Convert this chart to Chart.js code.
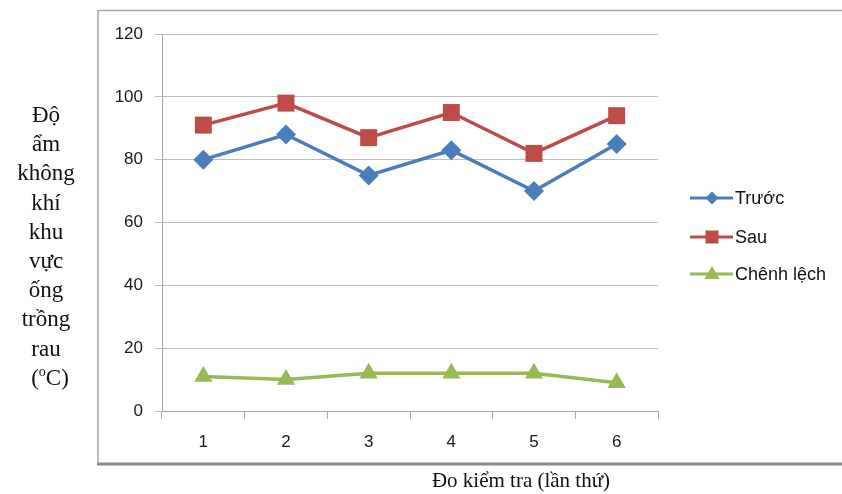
<!DOCTYPE html>
<html>
<head>
<meta charset="utf-8">
<script src="https://cdn.jsdelivr.net/npm/chart.js@4"></script>
<style>
  html, body { margin: 0; padding: 0; background: #fff; }
  #wrap { position: relative; width: 842px; height: 494px; }
  canvas { display: block; }
</style>
</head>
<body>
<div id="wrap"><canvas id="c" width="842" height="494"></canvas></div>
<script>
// Lần đo
const categories = ['1', '2', '3', '4', '5', '6'];
// Độ ẩm trước và sau, và chênh lệch giữa hai lần
const truoc = [80, 88, 75, 83, 70, 85];
const sau = [91, 98, 87, 95, 82, 94];
const chenhLech = [11, 10, 12, 12, 12, 9];
const seriesNames = ['Trước', 'Sau', 'Chênh lệch'];
const yTitleLines = ['Độ', 'ẩm', 'không', 'khí', 'khu', 'vực', 'ống', 'trồng', 'rau'];
const xTitle = 'Đo kiểm tra (lần thứ)';

const BLUE = '#4a7ebb', RED = '#be4b48', GREEN = '#98b954';
const SERIF = '"Liberation Serif", "Times New Roman", serif';
const SANS = '"Liberation Sans", Arial, sans-serif';

// Frame, axis titles and the line+marker legend
const decorations = {
  id: 'decorations',
  afterDraw(chart) {
    const ctx = chart.ctx;
    ctx.save();
    // outer frame
    ctx.strokeStyle = '#a6a6a6';
    ctx.lineWidth = 1.5;
    ctx.beginPath();
    ctx.moveTo(98, 464);
    ctx.lineTo(98, 10.5);
    ctx.lineTo(842, 10.5);
    ctx.stroke();
    ctx.strokeStyle = '#8a8a8a';
    ctx.lineWidth = 3;
    ctx.beginPath();
    ctx.moveTo(97, 464);
    ctx.lineTo(842, 464);
    ctx.stroke();

    // y title, stacked words
    ctx.fillStyle = '#111';
    const F = '23px ' + SERIF;
    ctx.font = F;
    ctx.textAlign = 'center';
    ctx.textBaseline = 'alphabetic';
    const cx = 46;
    let y = 122;
    const lh = 29.2;
    yTitleLines.forEach(t => { ctx.fillText(t, cx, y); y += lh; });
    // (oC) with raised small o
    const p1 = '(', p2 = 'C)';
    ctx.font = F;
    const w1 = ctx.measureText(p1).width;
    const w3 = ctx.measureText(p2).width;
    ctx.font = '14px ' + SERIF;
    const w2 = ctx.measureText('o').width;
    const x0 = cx + 4 - (w1 + w2 + w3) / 2;
    ctx.textAlign = 'left';
    ctx.font = F;
    ctx.fillText(p1, x0, y);
    ctx.font = '14px ' + SERIF;
    ctx.fillText('o', x0 + w1, y - 9);
    ctx.font = F;
    ctx.fillText(p2, x0 + w1 + w2, y);

    // x title
    ctx.textAlign = 'center';
    ctx.font = '21px ' + SERIF;
    ctx.fillText(xTitle, 521, 487);

    // legend
    const items = chart.data.datasets;
    const ys = [198, 237, 274];
    items.forEach((ds, i) => {
      const ly = ys[i];
      ctx.strokeStyle = ds.borderColor;
      ctx.lineWidth = 3;
      ctx.beginPath();
      ctx.moveTo(690, ly);
      ctx.lineTo(733, ly);
      ctx.stroke();
      ctx.fillStyle = ds.borderColor;
      const mx = 712;
      ctx.beginPath();
      if (ds.pointStyle === 'rectRot') {
        ctx.moveTo(mx, ly - 6.5); ctx.lineTo(mx + 6.5, ly); ctx.lineTo(mx, ly + 6.5); ctx.lineTo(mx - 6.5, ly);
      } else if (ds.pointStyle === 'rect') {
        ctx.rect(mx - 6.5, ly - 6.5, 13, 13);
      } else {
        ctx.moveTo(mx, ly - 8); ctx.lineTo(mx + 7.5, ly + 5); ctx.lineTo(mx - 7.5, ly + 5);
      }
      ctx.closePath();
      ctx.fill();
      ctx.fillStyle = '#111';
      ctx.font = '18px ' + SANS;
      ctx.textAlign = 'left';
      ctx.textBaseline = 'middle';
      ctx.fillText(ds.label, 735, ly + 1);
    });
    ctx.restore();
  }
};

new Chart(document.getElementById('c'), {
  type: 'line',
  data: {
    labels: categories,
    datasets: [
      { label: seriesNames[0], data: truoc, borderColor: BLUE, backgroundColor: BLUE,
        pointStyle: 'rectRot', pointRadius: 10, borderWidth: 3.5, pointBorderWidth: 0 },
      { label: seriesNames[1], data: sau, borderColor: RED, backgroundColor: RED,
        pointStyle: 'rect', pointRadius: 12, borderWidth: 3.5, pointBorderWidth: 0 },
      { label: seriesNames[2], data: chenhLech, borderColor: GREEN, backgroundColor: GREEN,
        pointStyle: 'triangle', pointRadius: 10.5, borderWidth: 3.5, pointBorderWidth: 0 }
    ]
  },
  options: {
    responsive: false,
    animation: false,
    devicePixelRatio: 1,
    layout: { padding: { left: 97, right: 184, top: 34, bottom: 43 } },
    plugins: { legend: { display: false }, tooltip: { enabled: false } },
    scales: {
      x: {
        offset: true,
        afterFit(s) { s.height = 40; },
        grid: { offset: true, drawOnChartArea: false, drawTicks: true, tickLength: 8, color: '#a6a6a6' },
        border: { color: '#a6a6a6', width: 1 },
        ticks: { color: '#1a1a1a', font: { family: SANS, size: 17 }, padding: 13 }
      },
      y: {
        min: 0, max: 120,
        afterFit(s) { s.width = 65; },
        grid: { color: '#bdbdbd', tickLength: 7, lineWidth: 1 },
        border: { color: '#a6a6a6', width: 1 },
        ticks: { stepSize: 20, color: '#1a1a1a', font: { family: SANS, size: 17 }, padding: 12 }
      }
    }
  },
  plugins: [decorations]
});
</script>
</body>
</html>
